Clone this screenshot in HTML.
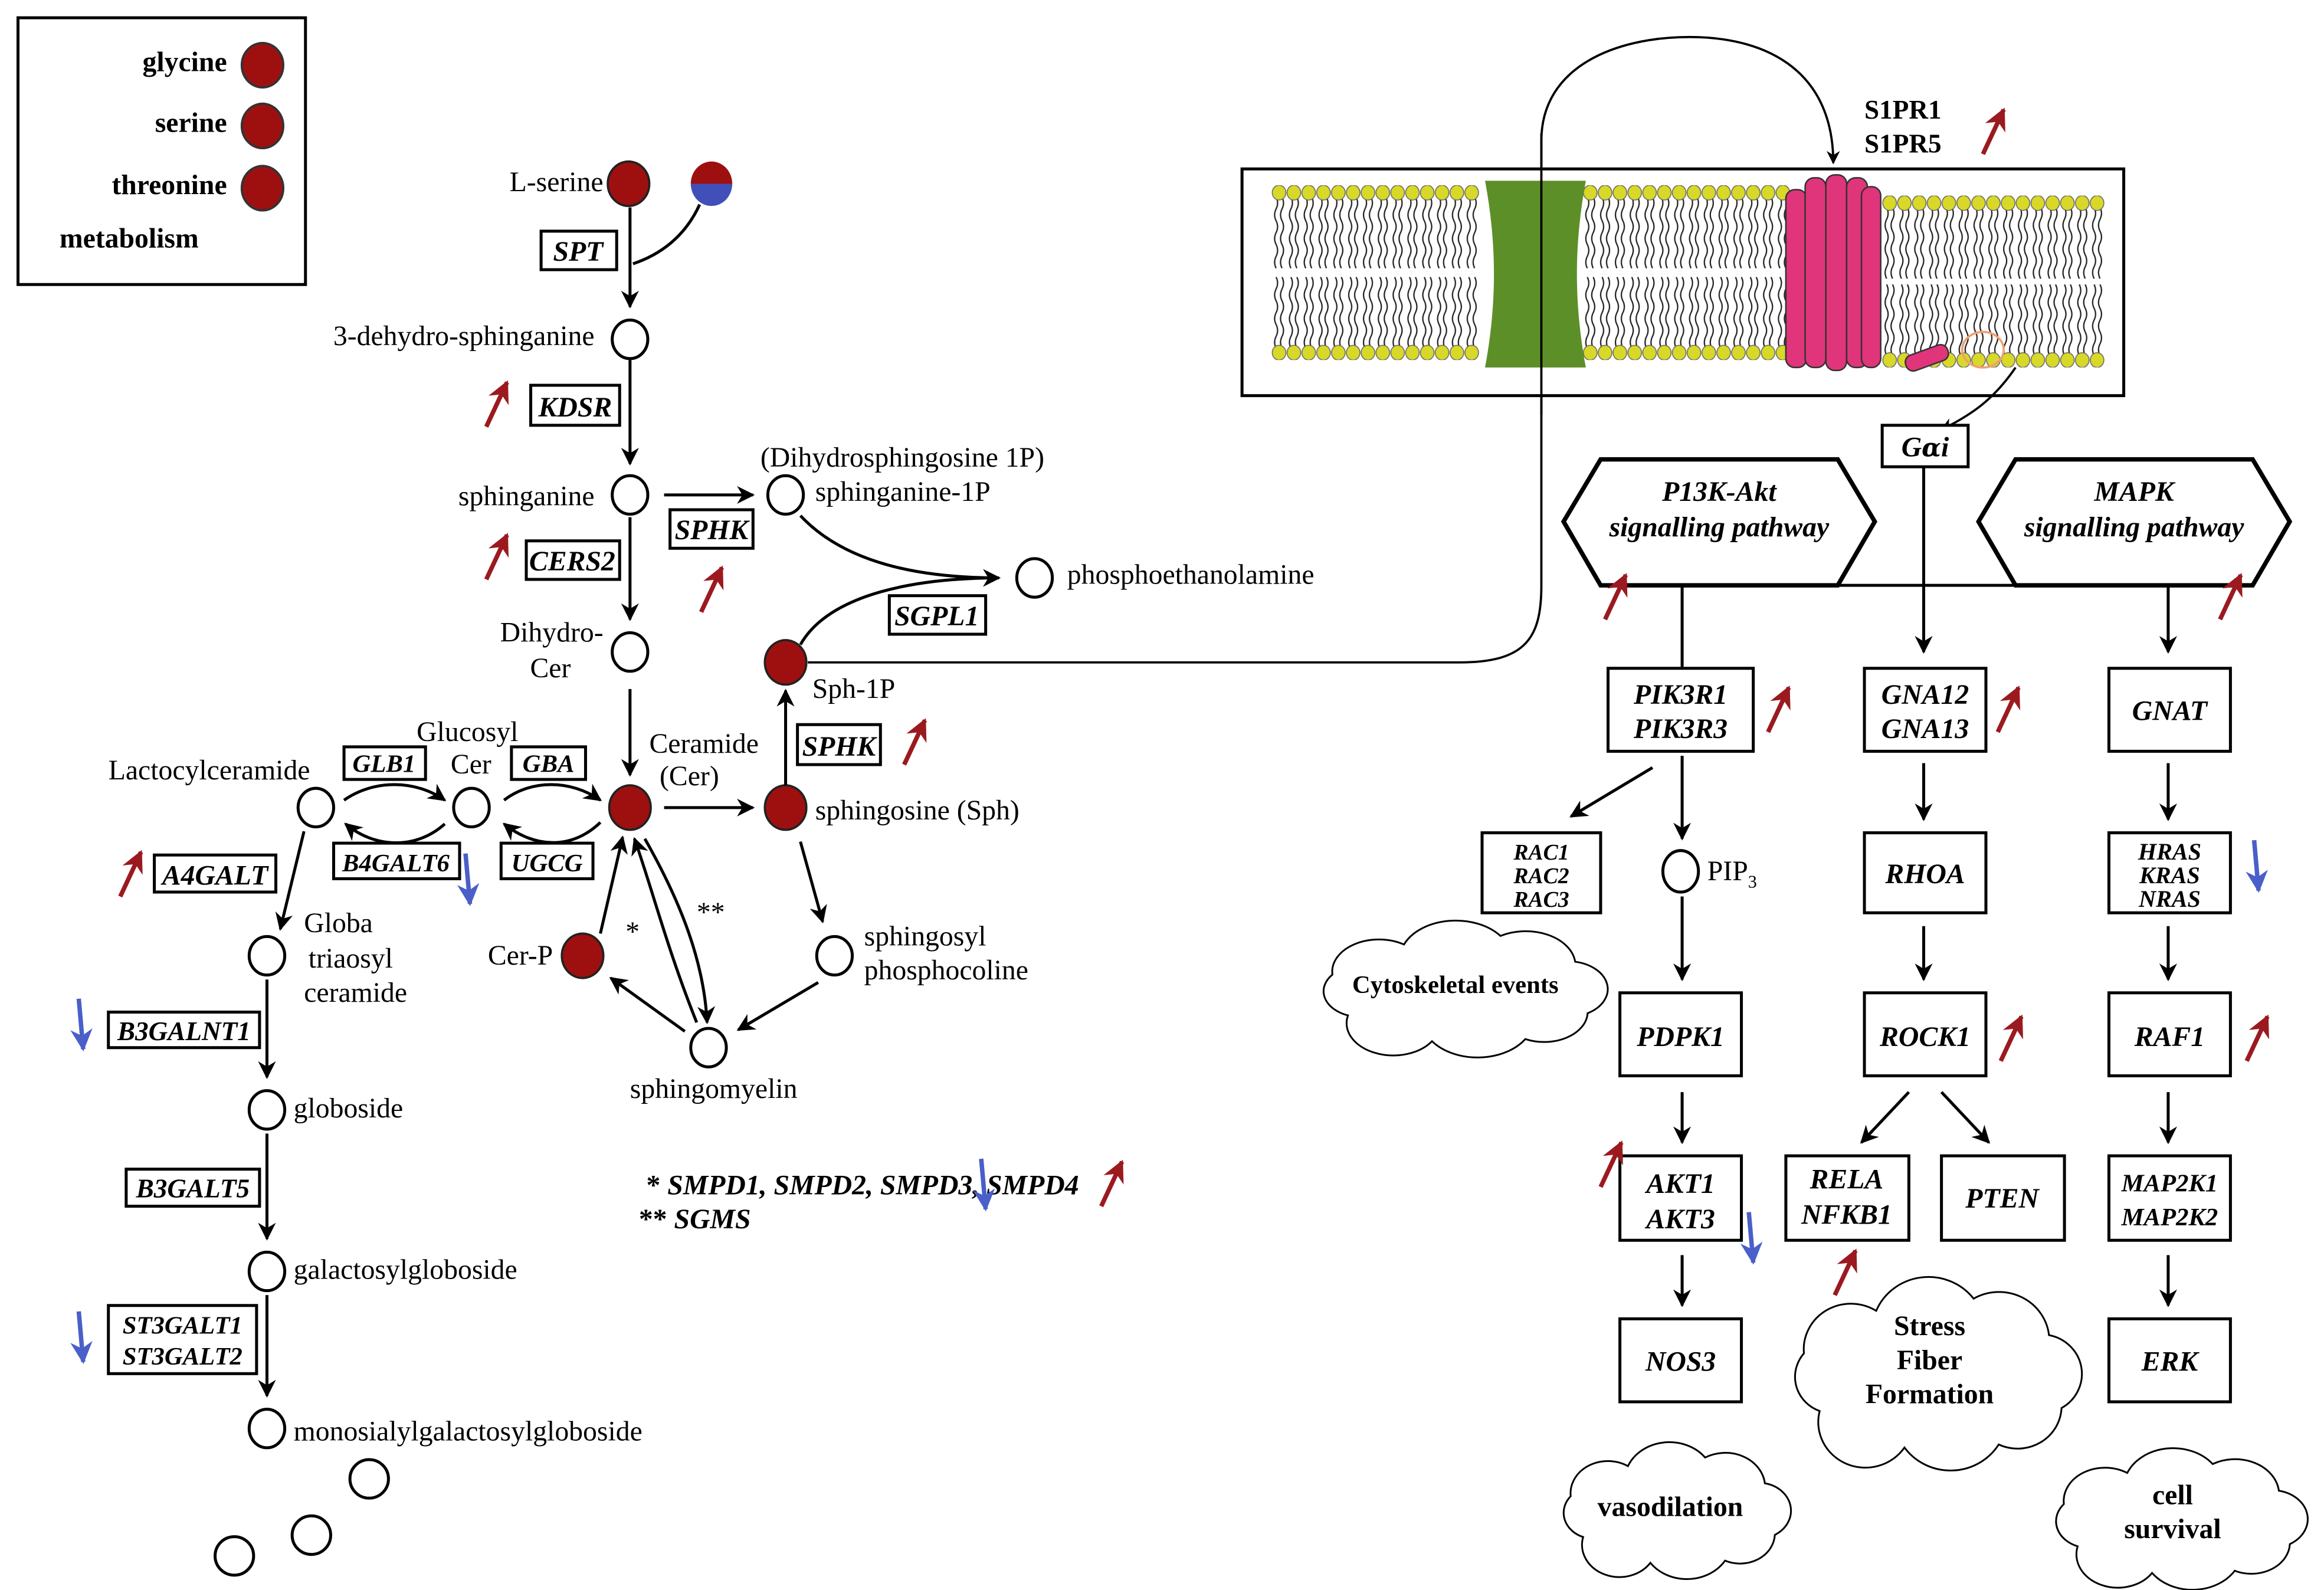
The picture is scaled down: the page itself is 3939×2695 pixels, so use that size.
<!DOCTYPE html>
<html><head><meta charset="utf-8"><style>
html,body{margin:0;padding:0;background:#fff}
svg{display:block;font-family:"Liberation Serif","Times New Roman",serif}
text{font-family:"Liberation Serif","Times New Roman",serif}
.n{font-size:19px}
.g{font-size:19px;font-weight:bold;font-style:italic}
.b{font-weight:bold}
</style></head><body>
<svg width="3939" height="2695" viewBox="0 0 1568 1073" xmlns="http://www.w3.org/2000/svg" font-family="Liberation Serif, serif">
<defs>
<marker id="ab2" viewBox="0 0 10 10" refX="9" refY="5" markerWidth="6" markerHeight="6" orient="auto" markerUnits="strokeWidth"><path d="M0,0 L10,5 L0,10 L3,5 Z" fill="#000"/></marker>
<marker id="ar" viewBox="0 0 10 10" refX="9" refY="5" markerWidth="5" markerHeight="5" orient="auto" markerUnits="strokeWidth"><path d="M0,0 L10,5 L0,10 L3,5 Z" fill="#9b1a1f"/></marker>
<marker id="abl" viewBox="0 0 10 10" refX="9" refY="5" markerWidth="5" markerHeight="5" orient="auto" markerUnits="strokeWidth"><path d="M0,0 L10,5 L0,10 L3,5 Z" fill="#4a5fc8"/></marker>
<g id="ru"><line x1="-7" y1="16" x2="7" y2="-14" stroke="#9b1a1f" stroke-width="3" marker-end="url(#ar)"/></g>
<g id="bd"><line x1="-2" y1="-18" x2="1" y2="16" stroke="#4a5fc8" stroke-width="3" marker-end="url(#abl)"/></g>
<pattern id="lipT" x="0" y="0" width="10" height="60" patternUnits="userSpaceOnUse">
<path d="M3,8 q2,4 0,8 q-2,4 0,8 q2,4 0,8 q-2,4 0,8 q2,4 0,8 q-2,4 0,8 M7,8 q2,4 0,8 q-2,4 0,8 q2,4 0,8 q-2,4 0,8 q2,4 0,8 q-2,4 0,8" fill="none" stroke="#222" stroke-width="0.9"/>
<ellipse cx="5" cy="5" rx="4.6" ry="5" fill="#d8d828" stroke="#666" stroke-width="0.6"/>
</pattern>
<pattern id="lipB" x="0" y="0" width="10" height="60" patternUnits="userSpaceOnUse">
<path d="M3,4 q2,4 0,8 q-2,4 0,8 q2,4 0,8 q-2,4 0,8 q2,4 0,8 q-2,4 0,8 M7,4 q2,4 0,8 q-2,4 0,8 q2,4 0,8 q-2,4 0,8 q2,4 0,8 q-2,4 0,8" fill="none" stroke="#222" stroke-width="0.9"/>
<ellipse cx="5" cy="55" rx="4.6" ry="5" fill="#d8d828" stroke="#666" stroke-width="0.6"/>
</pattern>
<path id="cloud" d="M15,45 A12,12 0 0 1 10,26 A15,15 0 0 1 33,12 A18,18 0 0 1 64,8 A16,16 0 0 1 88,20 A13,13 0 0 1 92,44 A14,14 0 0 1 72,56 A18,18 0 0 1 42,57 A15,15 0 0 1 15,45 Z" fill="#fff" stroke="#000" stroke-width="3" vector-effect="non-scaling-stroke"/>
</defs>

<!-- legend -->
<rect x="12" y="12" width="194" height="180" fill="#fff" stroke="#000" stroke-width="2"/>
<text x="153" y="48" text-anchor="end" class="b" font-size="19">glycine</text>
<text x="153" y="89" text-anchor="end" class="b" font-size="19">serine</text>
<text x="153" y="131" text-anchor="end" class="b" font-size="19">threonine</text>
<text x="40" y="167" class="b" font-size="19">metabolism</text>
<g fill="#9e1010" stroke="#333" stroke-width="1.5">
<ellipse cx="177" cy="44" rx="14" ry="15"/><ellipse cx="177" cy="85" rx="14" ry="15"/><ellipse cx="177" cy="127" rx="14" ry="15"/>
</g>

<!-- left pathway text -->
<g class="n">
<text x="407" y="129" text-anchor="end">L-serine</text>
<text x="401" y="233" text-anchor="end">3-dehydro-sphinganine</text>
<text x="401" y="341" text-anchor="end">sphinganine</text>
<text x="513" y="315">(Dihydrosphingosine 1P)</text>
<text x="550" y="338">sphinganine-1P</text>
<text x="720" y="394">phosphoethanolamine</text>
<text x="407" y="433" text-anchor="end">Dihydro-</text>
<text x="385" y="457" text-anchor="end">Cer</text>
<text x="548" y="471">Sph-1P</text>
<text x="438" y="508">Ceramide</text>
<text x="445" y="530">(Cer)</text>
<text x="550" y="553">sphingosine (Sph)</text>
<text x="281" y="500">Glucosyl</text>
<text x="304" y="522">Cer</text>
<text x="73" y="526">Lactocylceramide</text>
<text x="205" y="629">Globa</text>
<text x="208" y="653">triaosyl</text>
<text x="205" y="676">ceramide</text>
<text x="583" y="638">sphingosyl</text>
<text x="583" y="661">phosphocoline</text>
<text x="373" y="651" text-anchor="end">Cer-P</text>
<text x="425" y="741">sphingomyelin</text>
<text x="198" y="754">globoside</text>
<text x="198" y="863">galactosylgloboside</text>
<text x="198" y="972">monosialylgalactosylgloboside</text>
<text x="1152" y="594">PIP<tspan font-size="12" dy="5">3</tspan></text>
</g>

<!-- circles -->
<g fill="#fff" stroke="#000" stroke-width="2">
<ellipse cx="425" cy="229" rx="12" ry="13"/>
<ellipse cx="425" cy="334" rx="12" ry="13"/>
<ellipse cx="530" cy="334" rx="12" ry="13"/>
<ellipse cx="698" cy="390" rx="12" ry="13"/>
<ellipse cx="425" cy="440" rx="12" ry="13"/>
<ellipse cx="318" cy="545" rx="12" ry="13"/>
<ellipse cx="213" cy="545" rx="12" ry="13"/>
<ellipse cx="180" cy="645" rx="12" ry="13"/>
<ellipse cx="563" cy="645" rx="12" ry="13"/>
<ellipse cx="478" cy="707" rx="12" ry="13"/>
<ellipse cx="180" cy="749" rx="12" ry="13"/>
<ellipse cx="180" cy="858" rx="12" ry="13"/>
<ellipse cx="180" cy="964" rx="12" ry="13"/>
<ellipse cx="249" cy="998" rx="13" ry="13"/>
<ellipse cx="210" cy="1036" rx="13" ry="13"/>
<ellipse cx="158" cy="1050" rx="13" ry="13"/>
<ellipse cx="1134" cy="588" rx="12" ry="14"/>
</g>
<g fill="#9e1010" stroke="#222" stroke-width="1.5">
<ellipse cx="424" cy="124" rx="14" ry="15"/>
<ellipse cx="530" cy="447" rx="14" ry="15"/>
<ellipse cx="425" cy="545" rx="14" ry="15"/>
<ellipse cx="530" cy="545" rx="14" ry="15"/>
<ellipse cx="393" cy="645" rx="14" ry="15"/>
</g>
<path d="M466,124 A14,15 0 0 1 494,124 Z" fill="#9e1010"/>
<path d="M466,124 A14,15 0 0 0 494,124 Z" fill="#4050b8"/>

<!-- gene boxes left -->
<g fill="#fff" stroke="#000" stroke-width="2">
<rect x="365" y="156" width="51" height="26"/>
<rect x="358" y="260" width="60" height="27"/>
<rect x="452" y="344" width="56" height="26"/>
<rect x="355" y="365" width="63" height="26"/>
<rect x="600" y="402" width="65" height="26"/>
<rect x="538" y="489" width="56" height="27"/>
<rect x="232" y="504" width="55" height="22"/>
<rect x="345" y="504" width="50" height="22"/>
<rect x="225" y="569" width="85" height="24"/>
<rect x="338" y="569" width="62" height="24"/>
<rect x="104" y="577" width="82" height="25"/>
<rect x="73" y="683" width="102" height="24"/>
<rect x="85" y="789" width="90" height="25"/>
<rect x="73" y="881" width="100" height="46"/>
</g>
<g class="g" text-anchor="middle">
<text x="390" y="176">SPT</text>
<text x="388" y="281">KDSR</text>
<text x="480" y="364">SPHK</text>
<text x="386" y="385">CERS2</text>
<text x="632" y="422">SGPL1</text>
<text x="566" y="510">SPHK</text>
<text x="259" y="521" font-size="17">GLB1</text>
<text x="370" y="521" font-size="17">GBA</text>
<text x="267" y="588" font-size="17">B4GALT6</text>
<text x="369" y="588" font-size="17">UGCG</text>
<text x="145" y="597">A4GALT</text>
<text x="124" y="702" font-size="18">B3GALNT1</text>
<text x="130" y="808" font-size="18">B3GALT5</text>
<text x="123" y="900" font-size="17">ST3GALT1</text>
<text x="123" y="921" font-size="17">ST3GALT2</text>
</g>
<text x="436" y="806" class="g" font-size="17"><tspan font-style="normal">*  </tspan>SMPD1, SMPD2, SMPD3, SMPD4</text>
<text x="431" y="829" class="g" font-size="17"><tspan font-style="normal">** </tspan>SGMS</text>
<text x="422" y="635" class="n">*</text>
<text x="470" y="622" class="n">**</text>

<!-- left arrows -->
<g fill="none" stroke="#000" stroke-width="2" marker-end="url(#ab2)">
<path d="M425,140 L425,207"/>
<path d="M425,243 L425,313"/>
<path d="M448,334 L508,334"/>
<path d="M425,349 L425,418"/>
<path d="M425,465 L425,523"/>
<path d="M448,545 L508,545"/>
<path d="M530,530 L530,466"/>
<path d="M540,348 C570,380 620,390 674,390"/>
<path d="M540,435 C560,400 620,390 674,390" marker-end="none"/>
<path d="M340,540 C358,526 385,526 405,540"/>
<path d="M405,555 C385,574 360,572 340,556"/>
<path d="M232,540 C252,526 280,526 300,540"/>
<path d="M300,556 C280,574 252,572 233,556"/>
<path d="M205,561 L189,627"/>
<path d="M540,568 L555,622"/>
<path d="M552,663 L498,695"/>
<path d="M462,696 L412,660"/>
<path d="M405,630 L420,565"/>
<path d="M470,690 C450,640 440,600 428,566"/>
<path d="M435,566 C460,610 475,650 477,690"/>
<path d="M180,661 L180,727"/>
<path d="M180,765 L180,836"/>
<path d="M180,874 L180,942"/>
</g>
<path d="M472,138 C462,160 445,172 427,178" fill="none" stroke="#000" stroke-width="2"/>

<!-- Sph-1P to receptor -->
<path d="M545,447 L985,447 C1030,447 1040,430 1040,395 L1040,95 C1040,45 1090,25 1140,25 C1195,25 1237,50 1237,110" fill="none" stroke="#000" stroke-width="1.5" marker-end="url(#ab2)"/>

<!-- red / blue indicators left -->
<use href="#ru" x="335" y="272"/>
<use href="#ru" x="335" y="375"/>
<use href="#ru" x="480" y="397"/>
<use href="#ru" x="617" y="500"/>
<use href="#ru" x="88" y="589"/>
<use href="#ru" x="750" y="798"/>
<use href="#bd" x="316" y="594"/>
<use href="#bd" x="55" y="692"/>
<use href="#bd" x="55" y="903"/>
<use href="#bd" x="664" y="800"/>

<!-- membrane -->
<rect x="838" y="114" width="595" height="153" fill="#fff" stroke="#000" stroke-width="2"/>
<g transform="translate(858,125)">
<rect x="0" y="0" width="140" height="60" fill="url(#lipT)"/>
<rect x="210" y="0" width="140" height="60" fill="url(#lipT)"/>
</g>
<g transform="translate(858,183)">
<rect x="0" y="0" width="140" height="60" fill="url(#lipB)"/>
<rect x="210" y="0" width="140" height="60" fill="url(#lipB)"/>
</g>
<g transform="translate(1270,132)"><rect x="0" y="0" width="150" height="60" fill="url(#lipT)"/></g>
<g transform="translate(1270,188)"><rect x="0" y="0" width="150" height="60" fill="url(#lipB)"/></g>
<path d="M1002,122 L1070,122 C1062,165 1062,205 1070,248 L1002,248 C1010,205 1010,165 1002,122 Z" fill="#5d8f28"/>
<g fill="#e0357a" stroke="#333" stroke-width="1">
<rect x="1205" y="128" width="14" height="120" rx="6"/>
<rect x="1218" y="120" width="14" height="128" rx="6"/>
<rect x="1232" y="118" width="14" height="132" rx="6"/>
<rect x="1246" y="120" width="14" height="128" rx="6"/>
<rect x="1256" y="126" width="13" height="122" rx="6"/>
<rect x="1285" y="236" width="30" height="11" rx="5" transform="rotate(-20 1300 241)"/>
</g>
<ellipse cx="1338" cy="236" rx="14" ry="12" fill="none" stroke="#f0a070" stroke-width="1.5"/>
<line x1="1040" y1="90" x2="1040" y2="280" stroke="#000" stroke-width="1.5"/>
<text x="1258" y="80" class="b" font-size="18">S1PR1</text>
<text x="1258" y="103" class="b" font-size="18">S1PR5</text>
<use href="#ru" x="1345" y="88"/>
<path d="M1360,248 C1345,270 1330,280 1310,290" fill="none" stroke="#000" stroke-width="1.5" marker-end="url(#ab2)"/>
<rect x="1270" y="287" width="58" height="28" fill="#fff" stroke="#000" stroke-width="2"/>
<text x="1299" y="308" text-anchor="middle" class="g" font-size="19">G<tspan font-family="DejaVu Serif" font-size="17">α</tspan>i</text>

<!-- hexagons -->
<polygon points="1055,352 1080,310 1240,310 1265,352 1240,395 1080,395" fill="#fff" stroke="#000" stroke-width="3"/>
<polygon points="1335,352 1360,310 1520,310 1545,352 1520,395 1360,395" fill="#fff" stroke="#000" stroke-width="3"/>
<text x="1160" y="338" text-anchor="middle" class="g">P13K-Akt</text>
<text x="1160" y="362" text-anchor="middle" class="g">signalling pathway</text>
<text x="1440" y="338" text-anchor="middle" class="g">MAPK</text>
<text x="1440" y="362" text-anchor="middle" class="g">signalling pathway</text>
<use href="#ru" x="1090" y="402"/>
<use href="#ru" x="1505" y="402"/>

<!-- right connectors -->
<g fill="none" stroke="#000" stroke-width="2">
<path d="M1135,450 L1135,395 L1463,395"/>
<path d="M1463,395 L1463,440" marker-end="url(#ab2)"/>
<path d="M1298,315 L1298,440" marker-end="url(#ab2)"/>
<path d="M1115,518 L1060,551" marker-end="url(#ab2)"/>
<path d="M1135,510 L1135,566" marker-end="url(#ab2)"/>
<path d="M1135,605 L1135,661" marker-end="url(#ab2)"/>
<path d="M1135,737 L1135,771" marker-end="url(#ab2)"/>
<path d="M1135,847 L1135,881" marker-end="url(#ab2)"/>
<path d="M1298,515 L1298,553" marker-end="url(#ab2)"/>
<path d="M1298,625 L1298,661" marker-end="url(#ab2)"/>
<path d="M1288,737 L1256,771" marker-end="url(#ab2)"/>
<path d="M1310,737 L1342,771" marker-end="url(#ab2)"/>
<path d="M1463,515 L1463,553" marker-end="url(#ab2)"/>
<path d="M1463,625 L1463,661" marker-end="url(#ab2)"/>
<path d="M1463,737 L1463,771" marker-end="url(#ab2)"/>
<path d="M1463,847 L1463,881" marker-end="url(#ab2)"/>
</g>

<!-- right boxes -->
<g fill="#fff" stroke="#000" stroke-width="2">
<rect x="1085" y="451" width="98" height="56"/>
<rect x="1258" y="451" width="82" height="56"/>
<rect x="1423" y="451" width="82" height="56"/>
<rect x="1000" y="562" width="80" height="54"/>
<rect x="1258" y="562" width="82" height="54"/>
<rect x="1423" y="562" width="82" height="54"/>
<rect x="1093" y="670" width="82" height="56"/>
<rect x="1258" y="670" width="82" height="56"/>
<rect x="1423" y="670" width="82" height="56"/>
<rect x="1093" y="780" width="82" height="57"/>
<rect x="1205" y="780" width="83" height="57"/>
<rect x="1310" y="780" width="83" height="57"/>
<rect x="1423" y="780" width="82" height="57"/>
<rect x="1093" y="890" width="82" height="56"/>
<rect x="1423" y="890" width="82" height="56"/>
</g>
<g class="g" text-anchor="middle" font-size="21">
<text x="1134" y="475">PIK3R1</text><text x="1134" y="498">PIK3R3</text>
<text x="1299" y="475">GNA12</text><text x="1299" y="498">GNA13</text>
<text x="1464" y="486">GNAT</text>
<text x="1040" y="580" font-size="15">RAC1</text><text x="1040" y="596" font-size="15">RAC2</text><text x="1040" y="612" font-size="15">RAC3</text>
<text x="1299" y="596">RHOA</text>
<text x="1464" y="580" font-size="16">HRAS</text><text x="1464" y="596" font-size="16">KRAS</text><text x="1464" y="612" font-size="16">NRAS</text>
<text x="1134" y="706">PDPK1</text>
<text x="1299" y="706">ROCK1</text>
<text x="1464" y="706">RAF1</text>
<text x="1134" y="805">AKT1</text><text x="1134" y="829">AKT3</text>
<text x="1246" y="802">RELA</text><text x="1246" y="826">NFKB1</text>
<text x="1351" y="815">PTEN</text>
<text x="1464" y="804" font-size="17">MAP2K1</text><text x="1464" y="827" font-size="17">MAP2K2</text>
<text x="1134" y="925">NOS3</text>
<text x="1464" y="925">ERK</text>
</g>
<use href="#ru" x="1200" y="478"/>
<use href="#ru" x="1355" y="478"/>
<use href="#ru" x="1357" y="700"/>
<use href="#ru" x="1523" y="700"/>
<use href="#ru" x="1087" y="785"/>
<use href="#ru" x="1245" y="858"/>
<use href="#bd" x="1523" y="585"/>
<use href="#bd" x="1182" y="836"/>

<!-- clouds -->
<use href="#cloud" transform="translate(878,620) scale(2.1,1.45)"/>
<text x="982" y="670" text-anchor="middle" class="b" font-size="17">Cytoskeletal events</text>
<use href="#cloud" transform="translate(1196,860) scale(2.12,2.05)"/>
<text x="1302" y="901" text-anchor="middle" class="b" font-size="19">Stress</text>
<text x="1302" y="924" text-anchor="middle" class="b" font-size="19">Fiber</text>
<text x="1302" y="947" text-anchor="middle" class="b" font-size="19">Formation</text>
<use href="#cloud" transform="translate(1043,972) scale(1.68,1.45)"/>
<text x="1127" y="1023" text-anchor="middle" class="b" font-size="19">vasodilation</text>
<use href="#cloud" transform="translate(1374,976) scale(1.86,1.5)"/>
<text x="1466" y="1015" text-anchor="middle" class="b" font-size="19">cell</text>
<text x="1466" y="1038" text-anchor="middle" class="b" font-size="19">survival</text>
</svg>
</body></html>
